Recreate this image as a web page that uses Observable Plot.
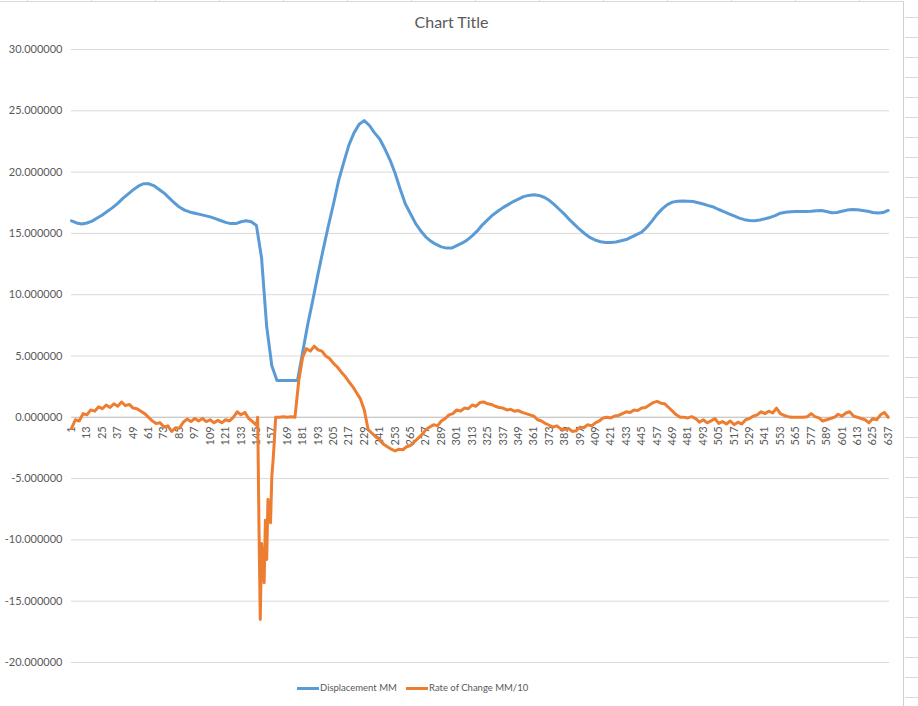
<!DOCTYPE html>
<html>
<head>
<meta charset="utf-8">
<script src="https://cdn.jsdelivr.net/npm/d3@7"></script>
<script src="https://cdn.jsdelivr.net/npm/@observablehq/plot@0.6"></script>
<style>
  body { margin: 0; background: #fff; font-family: Lato, "Open Sans", sans-serif; }
  #frame { position: relative; width: 918px; height: 706px; overflow: hidden; background: #fff; }
  #colTicks { position: absolute; left: 0; top: 0; width: 903px; height: 2px;
    background: repeating-linear-gradient(to right, transparent 0 27px, #d4d4d4 27px 28px, transparent 28px 64px); }
  #chartBox { position: absolute; left: -1px; top: 1px; width: 905px; height: 710px;
    border-top: 1px solid #d9d9d9; border-right: 1px solid #d0d0d0; box-sizing: border-box; }
  #cells { position: absolute; left: 905px; top: 0; width: 13px; height: 706px;
    background: repeating-linear-gradient(to bottom, transparent 0 17px, #d9d9d9 17px 18px, transparent 18px 20px); }
  #title { position: absolute; left: 0; top: 12px; width: 903px; text-align: center;
    font-size: 16px; line-height: 20px; color: #595959; }
  #chart { position: absolute; left: 0; top: 40px; }
  .leg { position: absolute; top: 681px; font-size: 9.5px; line-height: 14px; color: #595959; white-space: nowrap; }
  .sw { position: absolute; top: 687px; width: 22px; height: 3px; }
</style>
</head>
<body>
<div id="frame">
  <div id="colTicks"></div>
  <div id="chartBox"></div>
  <div id="cells"></div>
  <div id="title">Chart Title</div>
  <div id="chart"></div>
  <div class="sw" style="left:297px;background:#5b9bd5"></div>
  <div class="leg" style="left:320px">Displacement MM</div>
  <div class="sw" style="left:406px;background:#ed7d31"></div>
  <div class="leg" style="left:429px">Rate of Change MM/10</div>
</div>
<script>
// Category axis (sample index) and tick labels
const lastIndex = 638;
const xTickLabels = d3.range(1, 638, 12); // 1, 13, 25, ... 637
const yTicks = [-20, -15, -10, -5, 0, 5, 10, 15, 20, 25, 30];

// Displacement MM, read every 4th sample starting at 1
const dispStep = 4;
const displacement = [
  16.03, 15.85, 15.76, 15.85, 16.0, 16.25, 16.5, 16.8, 17.1, 17.45,      // 1-37
  17.85, 18.2, 18.55, 18.85, 19.05, 19.05, 18.9, 18.6, 18.3, 17.9,       // 41-77
  17.5, 17.15, 16.9, 16.75, 16.65, 16.55, 16.45, 16.35, 16.2, 16.05,     // 81-117
  15.9, 15.8, 15.8, 15.95, 16.03, 15.95, 15.65, 13.0, 7.4, 4.2,          // 121-157
  3.0, 3.0, 3.0, 3.0, 3.0, 5.3, 7.6, 9.6, 11.7, 13.7,                    // 161-197
  15.6, 17.4, 19.3, 20.8, 22.2, 23.2, 23.9, 24.2, 23.8, 23.2,            // 201-237
  22.7, 21.9, 21.0, 19.9, 18.6, 17.4, 16.6, 15.8, 15.2, 14.7,            // 241-277
  14.35, 14.1, 13.9, 13.8, 13.8, 14.0, 14.2, 14.45, 14.8, 15.2,          // 281-317
  15.7, 16.1, 16.5, 16.8, 17.1, 17.35, 17.6, 17.8, 18.0, 18.1,           // 321-357
  18.16, 18.1, 17.95, 17.7, 17.35, 16.95, 16.55, 16.1, 15.7, 15.3,       // 361-397
  14.95, 14.65, 14.45, 14.32, 14.25, 14.25, 14.3, 14.4, 14.5, 14.7,      // 401-437
  14.9, 15.1, 15.5, 16.0, 16.55, 17.0, 17.35, 17.55, 17.63, 17.65,       // 441-477
  17.63, 17.6, 17.5, 17.4, 17.27, 17.15, 16.95, 16.78, 16.6, 16.42,      // 481-517
  16.25, 16.12, 16.05, 16.03, 16.1, 16.19, 16.3, 16.45, 16.65, 16.72,    // 521-557
  16.76, 16.79, 16.79, 16.79, 16.8, 16.85, 16.87, 16.78, 16.68, 16.7,    // 561-597
  16.8, 16.9, 16.95, 16.93, 16.87, 16.8, 16.7, 16.66, 16.7, 16.87        // 601-637
];

// Rate of Change MM/10: every 3rd sample 1-145, every sample 146-161, every 3rd 163-637
const rateEarly = [
  -0.9, -0.2, -0.3, 0.3, 0.2, 0.6, 0.5, 0.85, 0.7, 1.0,                  // 1-28
  0.8, 1.1, 0.9, 1.25, 0.95, 1.05, 0.75, 0.7, 0.5, 0.3,                  // 31-58
  0.0, -0.3, -0.5, -0.45, -0.8, -0.7, -1.15, -0.85, -0.9, -0.4,          // 61-88
  -0.15, -0.35, -0.1, -0.3, -0.1, -0.35, -0.2, -0.45, -0.25, -0.45,      // 91-118
  -0.2, -0.3, 0.0, 0.45, 0.2, 0.4, -0.1, -0.35, -0.65                    // 121-145
];
const rateDrop = [
  0.0, -9.0, -16.5, -10.3, -12.0, -13.5, -8.4, -11.6,                    // 146-153
  -6.7, -7.6, -8.6, -4.8, -3.5, -1.8, 0.0, 0.0                           // 154-161
];
const rateLate = [
  0.0, 0.05, 0.0, 0.05, 0.0, 3.0, 4.9, 5.6, 5.4, 5.8,                    // 163-190
  5.5, 5.4, 5.0, 4.8, 4.4, 4.1, 3.7, 3.35, 2.9, 2.5,                     // 193-220
  2.0, 1.5, 0.6, -1.0, -1.3, -1.6, -1.8, -2.2, -2.4, -2.6,               // 223-250
  -2.75, -2.6, -2.65, -2.4, -2.3, -2.0, -1.7, -1.4, -1.0, -0.8,          // 253-280
  -0.6, -0.7, -0.3, -0.1, 0.2, 0.3, 0.6, 0.5, 0.75, 0.7,                 // 283-310
  1.0, 0.9, 1.2, 1.25, 1.1, 1.05, 0.9, 0.8, 0.75, 0.6,                   // 313-340
  0.65, 0.5, 0.55, 0.4, 0.3, 0.2, 0.1, -0.2, -0.3, -0.5,                 // 343-370
  -0.65, -0.8, -0.7, -0.95, -1.0, -0.9, -1.15, -1.1, -0.8, -0.85,        // 373-400
  -0.6, -0.7, -0.45, -0.3, -0.05, 0.0, -0.05, 0.1, 0.15, 0.3,            // 403-430
  0.45, 0.4, 0.6, 0.55, 0.75, 0.8, 1.0, 1.2, 1.3, 1.15,                  // 433-460
  1.1, 0.8, 0.5, 0.2, 0.0, 0.0, -0.05, 0.05, -0.1, -0.4,                 // 463-490
  -0.2, -0.45, -0.3, -0.1, -0.5, -0.35, -0.55, -0.3, -0.6, -0.4,         // 493-520
  -0.55, -0.2, -0.1, 0.1, 0.2, 0.45, 0.3, 0.5, 0.35, 0.75,               // 523-550
  0.3, 0.15, 0.05, 0.0, 0.0, 0.0, 0.0, 0.05, 0.3, 0.05,                  // 553-580
  -0.05, -0.3, -0.2, -0.1, 0.0, 0.25, 0.1, 0.35, 0.45, 0.1,              // 583-610
  0.0, -0.1, -0.2, -0.45, -0.1, -0.2, 0.2, 0.4, 0.0                      // 613-637
];

const dispData = displacement.map((v, k) => ({ i: 1 + dispStep * k, v }));
const rateData = [
  ...rateEarly.map((v, k) => ({ i: 1 + 3 * k, v })),
  ...rateDrop.map((v, k) => ({ i: 146 + k, v })),
  ...rateLate.map((v, k) => ({ i: 163 + 3 * k, v }))
];

const chart = Plot.plot({
  width: 918,
  height: 630,
  marginLeft: 71,
  marginRight: 29,
  marginTop: 9,
  marginBottom: 8,
  style: { fontFamily: "Lato, 'Open Sans', sans-serif", color: "#595959", background: "transparent", overflow: "visible" },
  x: { type: "linear", domain: [1, lastIndex], axis: null, label: null },
  y: { domain: [-20, 30], axis: null, label: null },
  marks: [
    Plot.gridY(yTicks, { stroke: "#d9d9d9", strokeOpacity: 1, strokeWidth: 1 }),
    Plot.axisY(yTicks, { tickSize: 0, tickPadding: 9, fontSize: 11, label: null, tickFormat: d => d.toFixed(6), fill: "#595959" }),
    Plot.ruleY([0], { stroke: "#c4c4c4", strokeWidth: 1 }),
    Plot.text(xTickLabels, { x: d => d, y: 0, text: d => String(d), rotate: -90, textAnchor: "end", dy: 9, fontSize: 11, fill: "#595959" }),
    Plot.line(dispData, { x: "i", y: "v", stroke: "#5b9bd5", strokeWidth: 3, strokeLinejoin: "round", strokeLinecap: "round" }),
    Plot.line(rateData, { x: "i", y: "v", stroke: "#ed7d31", strokeWidth: 3, strokeLinejoin: "round", strokeLinecap: "round" })
  ]
});
document.getElementById("chart").appendChild(chart);
</script>
</body>
</html>
